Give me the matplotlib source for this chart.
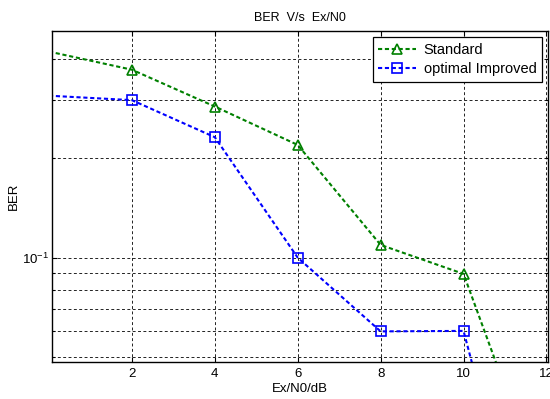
import matplotlib
matplotlib.use("Agg")
import matplotlib.pyplot as plt
from matplotlib.ticker import NullFormatter, FixedLocator

plt.rcParams["font.family"] = ["Liberation Sans", "DejaVu Sans"]
plt.rcParams["mathtext.default"] = "regular"

# data
ex_n0 = [0, 2, 4, 6, 8, 10, 12]
ber_standard = [0.421, 0.371, 0.287, 0.2195, 0.1093, 0.0893, 0.0184]
ber_improved = [0.3095, 0.300, 0.2317, 0.100, 0.0598, 0.0600, 0.0067]
x_ticks = [2, 4, 6, 8, 10, 12]
y_ticks = [0.1]

fig = plt.figure(figsize=(5.5, 3.99), dpi=100)
ax = fig.add_axes([52.3 / 550, 1 - 362.3 / 399, (547.7 - 52.3) / 550, (362.3 - 30.7) / 399])

# the point at x=0 sits just left of the axis, its marker is not shown
shown = list(range(1, len(ex_n0)))
dash = (0, (2.0, 1.3))
ax.plot(ex_n0, ber_standard, color="#008000", linestyle=dash, linewidth=1.5,
        marker="^", markersize=7, markerfacecolor="none", markeredgewidth=1.2,
        markevery=shown, label="Standard")
ax.plot(ex_n0, ber_improved, color="#0000ff", linestyle=dash, linewidth=1.5,
        marker="s", markersize=6.5, markerfacecolor="none", markeredgewidth=1.2,
        markevery=shown, label="optimal Improved")

ax.set_yscale("log")
ax.set_xlim(0.08, 12.03)
ax.set_ylim(0.0482, 0.487)
ax.set_xticks(x_ticks)
ax.yaxis.set_major_locator(FixedLocator(y_ticks))
ax.yaxis.set_minor_formatter(NullFormatter())

ax.tick_params(which="both", direction="in", top=True, right=True, labelsize=9.5, width=0.8)
ax.tick_params(which="major", length=3.5, pad=4)
ax.tick_params(which="minor", length=2)
ax.tick_params(axis="y", pad=2)

grid_style = dict(color="#222222", linestyle=(0, (3, 2.5)), linewidth=0.7)
ax.grid(True, which="major", **grid_style)
ax.yaxis.grid(True, which="minor", **grid_style)

for sp in ax.spines.values():
    sp.set_linewidth(1.0)
    sp.set_color("black")

ax.set_title("BER  V/s  Ex/N0", fontsize=9, pad=7)
ax.set_xlabel("Ex/N0/dB", fontsize=9.5, labelpad=2)
ax.set_ylabel("BER", fontsize=9.5, labelpad=2)

leg = ax.legend(loc="upper right", bbox_to_anchor=(0.989, 0.980), borderaxespad=0,
                fontsize=10.5, fancybox=False, framealpha=1, edgecolor="black",
                handlelength=2.6, handletextpad=0.5, labelspacing=0.35, borderpad=0.4)
leg.get_frame().set_linewidth(0.9)

fig.savefig("out.png", dpi=100)
